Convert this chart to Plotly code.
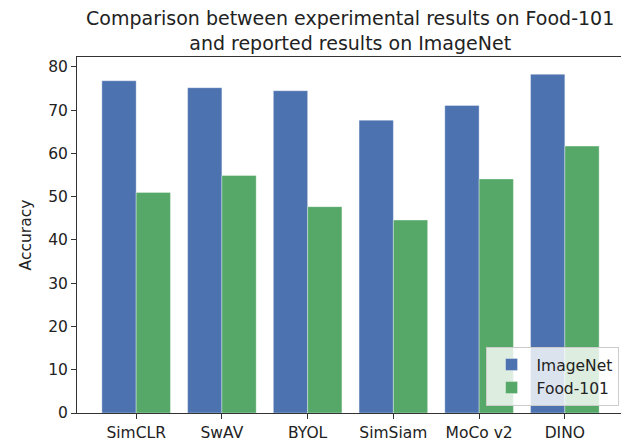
import plotly.graph_objects as go

methods = ["SimCLR", "SwAV", "BYOL", "SimSiam", "MoCo v2", "DINO"]
imagenet = [76.8, 75.2, 74.5, 67.7, 71.1, 78.3]
food101 = [51.0, 54.9, 47.7, 44.6, 54.1, 61.7]
y_ticks = [0, 10, 20, 30, 40, 50, 60, 70, 80]

FONT = "DejaVu Sans"

fig = go.Figure()
fig.add_trace(go.Bar(x=list(range(len(methods))), y=imagenet, name="ImageNet",
                     marker=dict(color="#4C72B0", line=dict(color="rgba(255,255,255,0.6)", width=0.6))))
fig.add_trace(go.Bar(x=list(range(len(methods))), y=food101, name="Food-101",
                     marker=dict(color="#55A868", line=dict(color="rgba(255,255,255,0.6)", width=0.6))))

# the page body adds an 8px margin, so the figure is sized to fill the rest
fig.update_layout(
    width=621, height=435,
    margin=dict(l=69, r=5, t=49, b=30),
    paper_bgcolor="white", plot_bgcolor="white",
    barmode="group", bargap=0.2, bargroupgap=0,
    font=dict(family=FONT, size=15.5, color="#222"),
    title=dict(text="Comparison between experimental results on Food-101<br>and reported results on ImageNet",
               x=0.551, xanchor="center", y=0.961, yanchor="top",
               font=dict(family=FONT, size=19, color="#222")),
    showlegend=True,
    legend=dict(x=0.99, y=0.02, xanchor="right", yanchor="bottom",
                bgcolor="rgba(255,255,255,0.8)", bordercolor="#cccccc", borderwidth=1,
                font=dict(family=FONT, size=15.5, color="#222"), traceorder="normal",
                itemwidth=40),
)
fig.update_xaxes(range=[-0.69, 5.69], tickmode="array",
                 tickvals=list(range(len(methods))), ticktext=methods,
                 ticks="outside", ticklen=5, tickcolor="#333",
                 showline=True, linecolor="#333", linewidth=1, mirror=True,
                 showgrid=False, zeroline=False, automargin=False)
fig.update_yaxes(range=[0, 82.3], tickmode="array", tickvals=y_ticks,
                 ticks="outside", ticklen=5, tickcolor="#333",
                 showline=True, linecolor="#333", linewidth=1, mirror=True,
                 showgrid=False, zeroline=False, automargin=False,
                 title=dict(text="Accuracy", font=dict(family=FONT, size=15.5, color="#222"), standoff=12))

fig.write_html("out.html")
